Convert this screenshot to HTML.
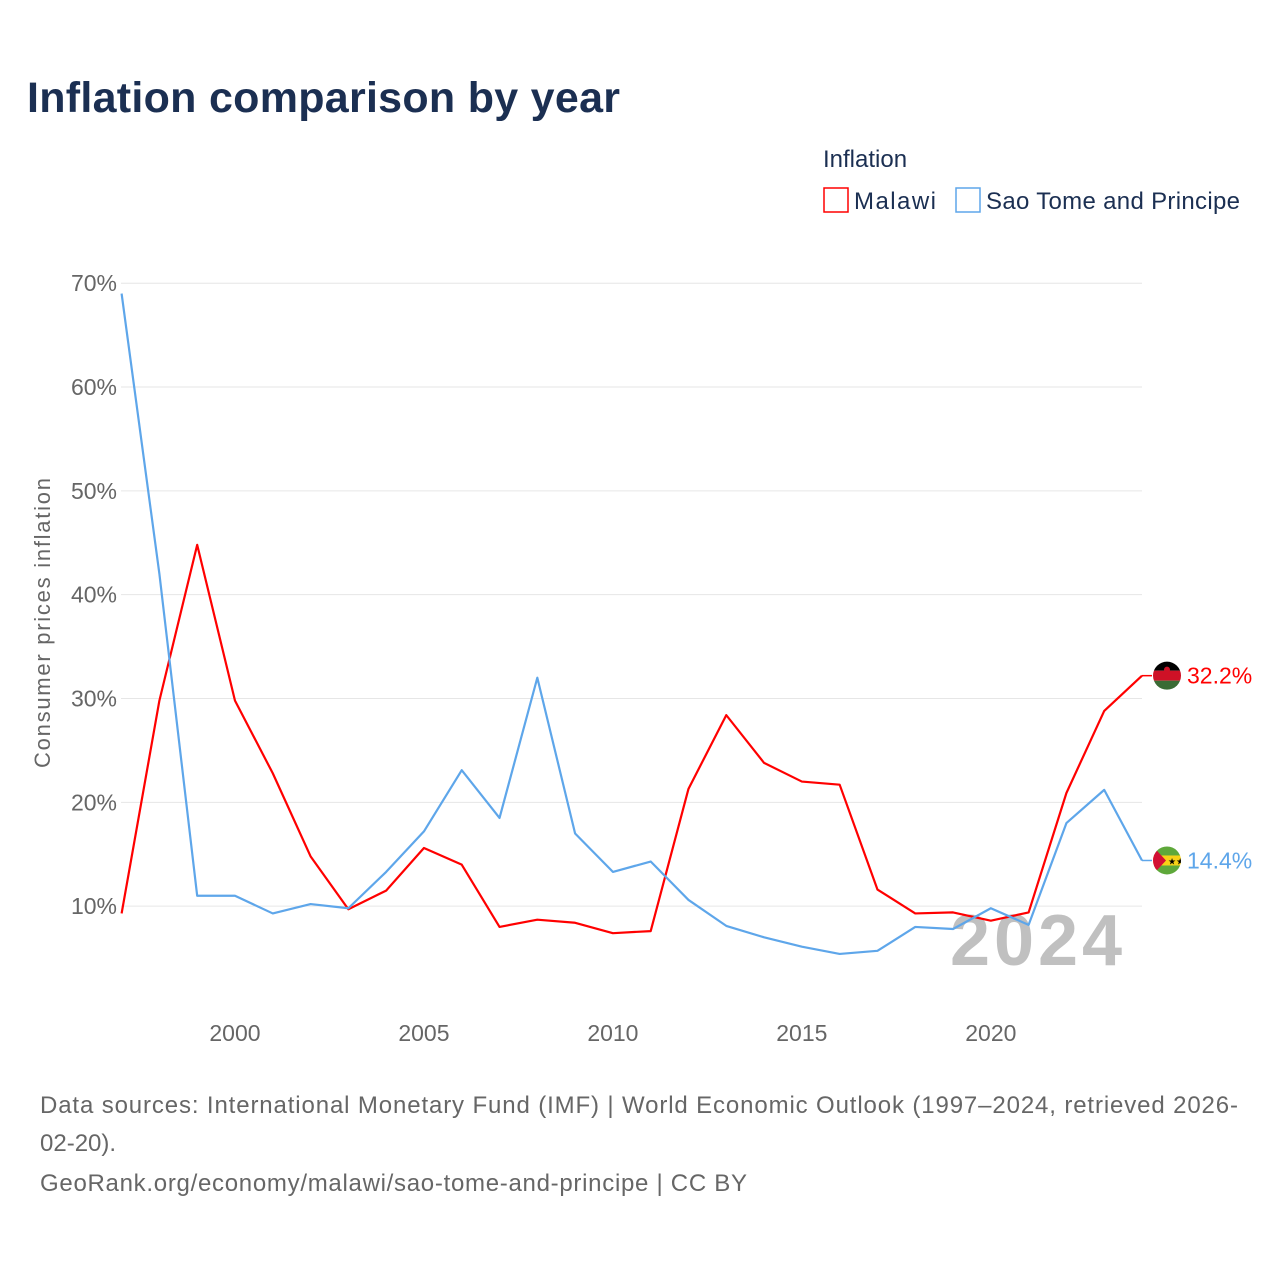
<!DOCTYPE html>
<html><head><meta charset="utf-8">
<style>
body{margin:0;background:#fff;font-family:"Liberation Sans",sans-serif;}
#wrap{position:relative;width:1280px;height:1280px;overflow:hidden;}
</style></head>
<body>
<div id="wrap">
<svg id="chart" width="1280" height="1280">
<text x="27" y="112" font-size="43" font-weight="bold" fill="#1b2f52" textLength="593">Inflation comparison by year</text>
<text x="823" y="167" font-size="24" fill="#1b2f52">Inflation</text>
<g>
<rect x="824" y="188" width="24" height="24" fill="none" stroke="#f00" stroke-width="1.5"/>
<text x="854" y="209" font-size="24" fill="#1b2f52" textLength="82">Malawi</text></g>
<g>
<rect x="956" y="188" width="24" height="24" fill="none" stroke="#5ea6ea" stroke-width="1.5"/>
<text x="986" y="209" font-size="24" fill="#1b2f52" textLength="254">Sao Tome and Principe</text></g>
<text transform="translate(50,623) rotate(-90)" text-anchor="middle" font-size="22" fill="#666" textLength="290">Consumer prices inflation</text>
<text x="950" y="965" font-size="72" font-weight="bold" fill="#c0c0c0" textLength="172">2024</text>
<g id="grid"></g><g id="lines"></g><g id="labels"></g>
<text x="40" y="1113" font-size="24" fill="#666" textLength="1198">Data sources: International Monetary Fund (IMF) | World Economic Outlook (1997–2024, retrieved 2026-</text>
<text x="40" y="1151" font-size="24" fill="#666">02-20).</text>
<text x="40" y="1191" font-size="24" fill="#666" textLength="707">GeoRank.org/economy/malawi/sao-tome-and-principe | CC BY</text>
</svg>
</div>
<script>
const years=[1997,1998,1999,2000,2001,2002,2003,2004,2005,2006,2007,2008,2009,2010,2011,2012,2013,2014,2015,2016,2017,2018,2019,2020,2021,2022,2023,2024];
const malawi=[9.3,29.8,44.8,29.8,22.8,14.8,9.7,11.5,15.6,14.0,8.0,8.7,8.4,7.4,7.6,21.3,28.4,23.8,22.0,21.7,11.6,9.3,9.4,8.6,9.4,20.9,28.8,32.2];
const stp=[69.0,42.0,11.0,11.0,9.3,10.2,9.8,13.3,17.2,23.1,18.5,32.0,17.0,13.3,14.3,10.6,8.1,7.0,6.1,5.4,5.7,8.0,7.8,9.8,8.2,18.0,21.2,14.4];
const yTicks=[10,20,30,40,50,60,70];
const xTicks=[2000,2005,2010,2015,2020];
const NS="http://www.w3.org/2000/svg";
const X=v=>121.6+(v-1997)*(1142-121.6)/27;
const Y=v=>1010-v*10.383;
function mk(tag,attrs,parent){const e=document.createElementNS(NS,tag);for(const k in attrs)e.setAttribute(k,attrs[k]);document.getElementById(parent).appendChild(e);return e;}
yTicks.forEach(t=>{
 const l=mk('line',{x1:121,x2:1142,y1:Y(t),y2:Y(t),stroke:'#e6e6e6','stroke-width':1},'grid');
 
 
 const tx=mk('text',{x:117,y:Y(t)+8,'text-anchor':'end','font-size':23,fill:'#666'},'grid');
 tx.textContent=t+'%';
 
 
});
xTicks.forEach(t=>{
 const tx=mk('text',{x:X(t),y:1041,'text-anchor':'middle','font-size':23,fill:'#666'},'grid');
 tx.textContent=t;
 
 
});
function series(vals,color,name){
 const p=mk('polyline',{points:vals.map((v,i)=>X(years[i])+','+Y(v)).join(' '),fill:'none',stroke:color,'stroke-width':2.2,'stroke-linejoin':'round'},'lines');
 
 
 const last=vals[vals.length-1],y=Y(last);
 mk('line',{x1:1142,x2:1152,y1:y,y2:y,stroke:color,'stroke-width':1.5},'labels');
 const t=mk('text',{x:1187,y:y+8,'font-size':23,fill:color},'labels');
 t.textContent=last.toFixed(1)+'%';
 
 
 return y;
}
const ym=series(malawi,'#f00','malawi');
const ys=series(stp,'#5ea6ea','sao-tome');
const g1=mk('g',{},'labels');


g1.innerHTML=`<clipPath id="c1"><circle cx="1167" cy="${ym}" r="14"/></clipPath><g clip-path="url(#c1)"><rect x="1150" y="${ym-15}" width="34" height="10" fill="#000"/><rect x="1150" y="${ym-5}" width="34" height="10" fill="#ce1126"/><rect x="1150" y="${ym+5}" width="34" height="10" fill="#3a6b35"/><circle cx="1167" cy="${ym-6}" r="3" fill="#ce1126"/></g>`;
const g2=mk('g',{},'labels');


g2.innerHTML=`<clipPath id="c2"><circle cx="1167" cy="${ys}" r="14"/></clipPath><g clip-path="url(#c2)"><rect x="1150" y="${ys-15}" width="34" height="10" fill="#5ea83a"/><rect x="1150" y="${ys-5}" width="34" height="10" fill="#f7d116"/><rect x="1150" y="${ys+5}" width="34" height="10" fill="#5ea83a"/><polygon points="1152,${ys-15} 1166,${ys} 1152,${ys+15}" fill="#d21034"/><text x="1168" y="${ys+4}" font-size="9" fill="#000">★★</text></g>`;
</script>
</body></html>
